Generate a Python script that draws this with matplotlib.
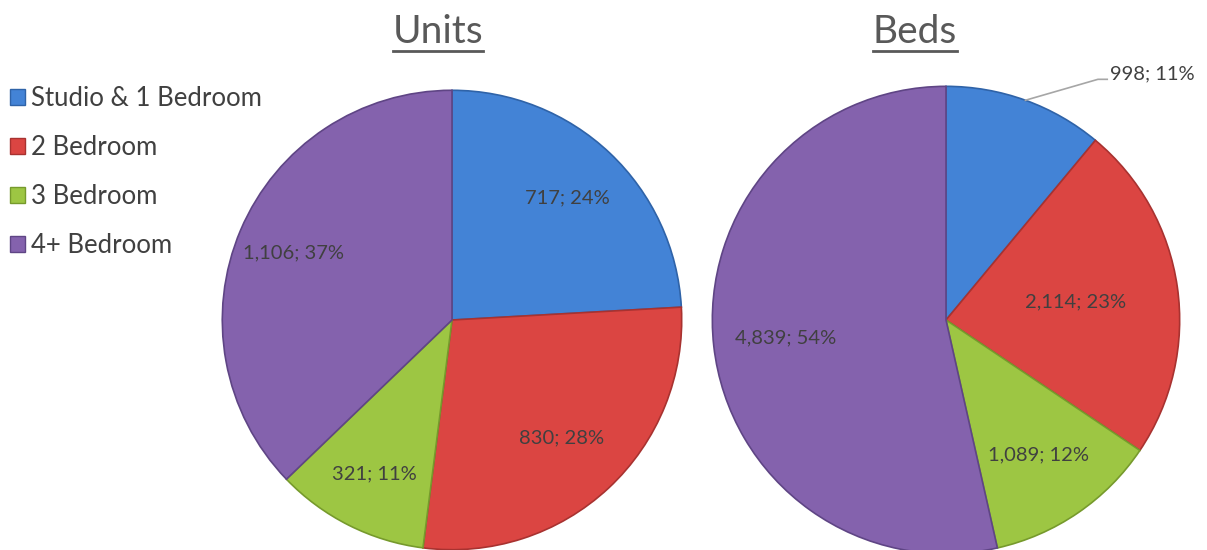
import numpy as np
import matplotlib.pyplot as plt
from matplotlib.patches import Patch
from matplotlib.lines import Line2D

plt.rcParams['font.family'] = ['Lato', 'DejaVu Sans']

categories = ["Studio & 1 Bedroom", "2 Bedroom", "3 Bedroom", "4+ Bedroom"]
units = [717, 830, 321, 1106]
beds = [998, 2114, 1089, 4839]

colors = ["#4383d6", "#db4542", "#9dc643", "#8462ad"]
edges = ["#2f63a8", "#a83230", "#769a2c", "#5f4585"]
text_col = "#404040"

W, H = 1207, 550
fig = plt.figure(figsize=(W / 100, H / 100), dpi=100)


def make_axes(cx, cy, r):
    # pixel centre/radius -> figure fraction axes
    return fig.add_axes([(cx - r) / W, (H - cy - r) / H, 2 * r / W, 2 * r / H])


def fmt(values):
    total = sum(values)
    return [f"{v:,}; {round(100 * v / total)}%" for v in values]


def draw_pie(ax, values, label_dist):
    wedges, _ = ax.pie(values, colors=colors, startangle=90, counterclock=False,
                       radius=1, wedgeprops=dict(linewidth=1.2))
    for w, ec in zip(wedges, edges):
        w.set_edgecolor(ec)
    ax.set_xlim(-1.01, 1.01)
    ax.set_ylim(-1.01, 1.01)
    ax.set_aspect('equal')
    ax.axis('off')
    labels = fmt(values)
    for w, lab, d in zip(wedges, labels, label_dist):
        if d is None:
            continue
        ang = np.deg2rad((w.theta1 + w.theta2) / 2)
        ax.text(d * np.cos(ang), d * np.sin(ang), lab, ha='center', va='center',
                fontsize=14.5, color=text_col)
    return wedges, labels


ax1 = make_axes(452, 320, 232)
draw_pie(ax1, units, [0.73, 0.70, 0.75, 0.75])

ax2 = make_axes(946, 320, 236)
wedges2, labels2 = draw_pie(ax2, beds, [None, 0.56, 0.70, 0.69])
# outside label for the first slice with leader line
a = np.deg2rad((wedges2[0].theta1 + wedges2[0].theta2) / 2)
x0, y0 = np.cos(a), np.sin(a)
ax2.plot([x0, 0.65, 0.69], [y0, 1.03, 1.03], color="#a6a6a6", lw=1.2, clip_on=False)
ax2.text(0.70, 1.055, labels2[0], ha='left', va='center', fontsize=14.5,
         color=text_col, clip_on=False)

# titles with underline
for cx, title in [(438, "Units"), (915, "Beds")]:
    fig.text(cx / W, 1 - 32 / H, title, ha='center', va='center',
             fontsize=28, color="#595959")
fig.canvas.draw()
r = fig.canvas.get_renderer()
for t in fig.texts:
    bb = t.get_window_extent(r)
    yline = bb.y0 - 1
    fig.add_artist(Line2D([bb.x0 / W, bb.x1 / W], [yline / H, yline / H],
                          color="#595959", lw=2, transform=fig.transFigure))

handles = [Patch(facecolor=c, edgecolor=e, label=l) for c, e, l in zip(colors, edges, categories)]
fig.legend(handles=handles, loc='upper left', bbox_to_anchor=(0.008, 0.843),
           frameon=False, fontsize=18.5, labelcolor=text_col, handlelength=0.6,
           handleheight=0.6, handletextpad=0.25, labelspacing=0.93, borderaxespad=0,
           borderpad=0)

fig.savefig("out.png", dpi=100)
